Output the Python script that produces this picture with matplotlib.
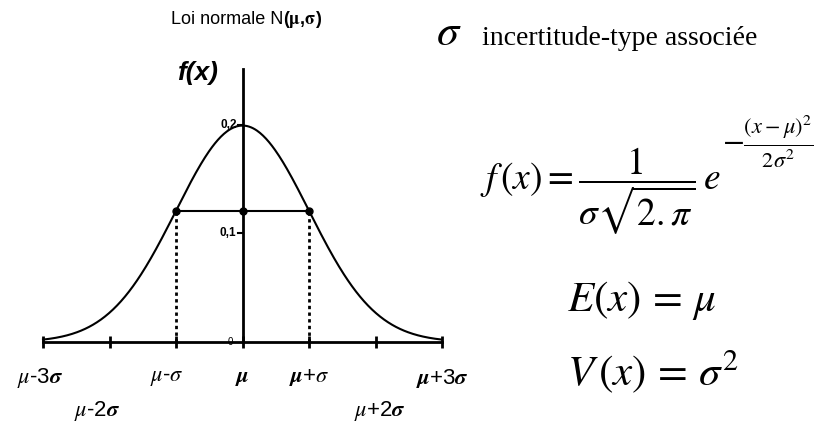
import numpy as np
import matplotlib
matplotlib.use("Agg")
from matplotlib import pyplot as plt

plt.rcParams['mathtext.fontset'] = 'stix'
plt.rcParams['font.family'] = ['Liberation Sans', 'DejaVu Sans']

# loi normale N(mu, sigma)
mu = 0.0
sigma = 2.0
k_ticks = [-3, -2, -1, 0, 1, 2, 3]
x_labels = [r'$\mu$-3$\boldsymbol{\sigma}$', r'$\mu$-2$\boldsymbol{\sigma}$', r'$\mu$-$\sigma$',
            r'$\boldsymbol{\mu}$', r'$\boldsymbol{\mu}$+$\sigma$', r'$\mu$+2$\boldsymbol{\sigma}$',
            r'$\boldsymbol{\mu}$+3$\boldsymbol{\sigma}$']
label_row = [0, 1, 0, 0, 0, 1, 0]
y_ticks = [0.1, 0.2]
y_ticklabels = ['0,1', '0,2']
y_top = 0.2516

W, H = 822, 422

# small horizontal nudges for the sigma labels (pixels)
label_dx = [-3, -12, -9, 0, 0, 4, 0]


def gauss(x):
    return np.exp(-(x - mu) ** 2 / (2 * sigma ** 2)) / (sigma * np.sqrt(2 * np.pi))


def px(x, y):
    # pixel coords (from top-left) -> figure fraction
    return x / W, 1 - y / H


fig = plt.figure(figsize=(W / 100, H / 100), dpi=100)
ax = fig.add_axes([43 / W, (H - 342) / H, 399 / W, 273 / H])
ax.set_xlim(mu - 3 * sigma, mu + 3 * sigma)
ax.set_ylim(0, y_top)
ax.axis('off')

xs = np.linspace(mu - 3 * sigma, mu + 3 * sigma, 400)
ax.plot(xs, gauss(xs), color='black', lw=1.5, clip_on=False)

# axes
ax.plot([mu - 3 * sigma, mu + 3 * sigma], [0, 0], color='black', lw=2, clip_on=False)
ax.plot([mu, mu], [0, y_top], color='black', lw=2, clip_on=False)
xt = [mu + k * sigma for k in k_ticks]
ax.plot(xt, [0] * len(xt), ls='none', marker='|', ms=9, mew=2, color='black', clip_on=False)
for v, lab in zip(y_ticks, y_ticklabels):
    ax.plot([mu - 0.15, mu], [v, v], color='black', lw=1.5, clip_on=False)
    ax.text(mu - 0.18, v, lab, ha='right', va='center', fontsize=8.5, fontweight='bold')
ax.text(mu - 0.3, 0.0, '0', ha='right', va='center', fontsize=7)

# mu +/- sigma
h = gauss(mu + sigma)
ax.plot([mu - sigma, mu + sigma], [h, h], color='black', lw=1.5, clip_on=False)
for xx in [mu - sigma, mu + sigma]:
    ax.plot([xx, xx], [0, h], color='black', lw=2, ls=(0, (1.2, 1.2)), clip_on=False)
ax.plot([mu - sigma, mu, mu + sigma], [h, h, h], ls='none', marker='o', ms=5, color='black',
        clip_on=False)

# x labels
for k, lab, row, dx in zip(k_ticks, x_labels, label_row, label_dx):
    x0 = mu + k * sigma
    ax.annotate(lab, xy=(x0, 0), xytext=(dx, -36 - 33 * row), textcoords='offset pixels',
                ha='center', va='center', fontsize=16, annotation_clip=False)

fig.text(*px(283, 20), 'Loi normale N', ha='right', va='center', fontsize=13)
fig.text(*px(283, 20), r'($\mathbf{\mu}$,$\mathbf{\sigma}$)', ha='left', va='center',
         fontsize=13, fontweight='bold')
fig.text(*px(197, 73), 'f(x)', ha='center', va='center', fontsize=19, fontweight='bold',
         style='italic')

# right-hand formulas
fig.text(*px(436, 45), r'$\sigma$', ha='left', va='baseline', fontsize=32)
fig.text(*px(482, 45), 'incertitude-type associée', ha='left', va='baseline', fontsize=20,
         family='Liberation Serif')
fig.text(*px(480, 191), r'$f\,(x) = \dfrac{1}{\sigma\sqrt{2.\pi}}\,e$',
         ha='left', va='center', fontsize=27)
fig.text(*px(722, 142), r'$-\frac{(x-\mu)^2}{2\sigma^2}$', ha='left', va='center',
         fontsize=23)
fig.text(*px(567, 300), r'$E(x)\,=\,\mu$', ha='left', va='center', fontsize=31)
fig.text(*px(567, 371), r'$V\,(x)\,=\,\sigma^2$', ha='left', va='center', fontsize=31)

fig.savefig('out.png', dpi=100)
